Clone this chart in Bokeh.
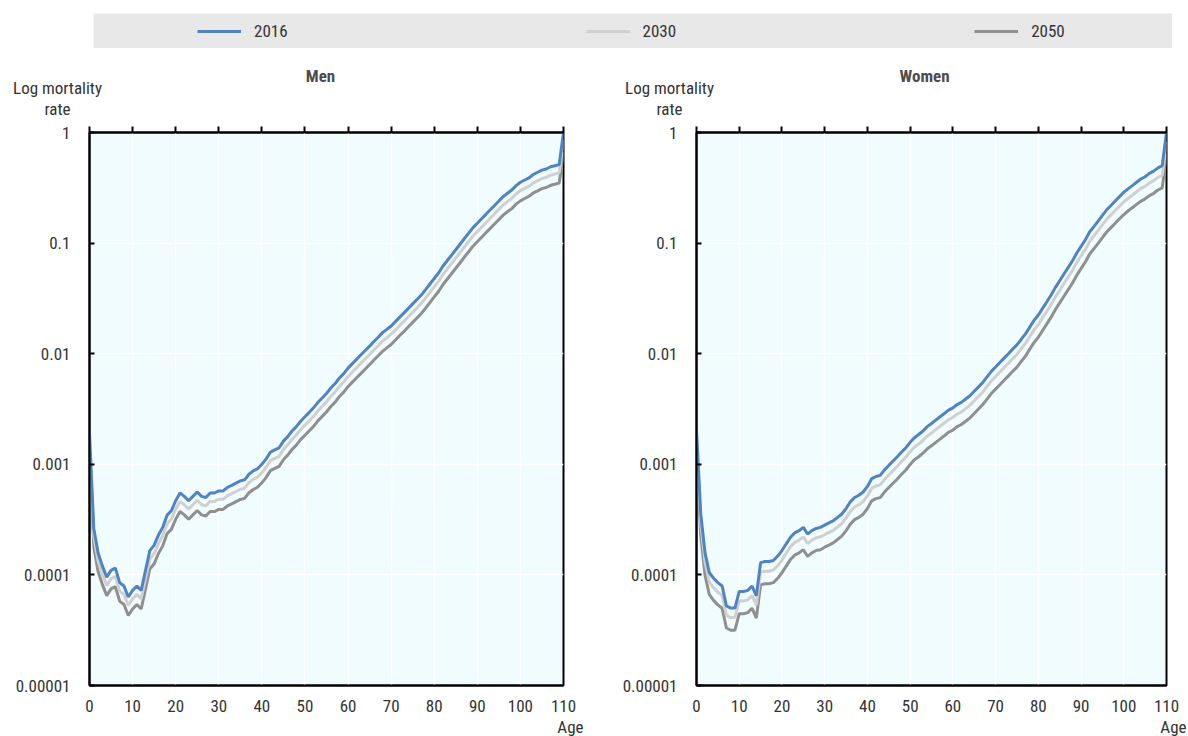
from bokeh.plotting import figure
from bokeh.models import (Range1d, LinearAxis, FixedTicker, CustomJSTickFormatter,
                          Title, Legend, LegendItem, Spacer)
from bokeh.core.properties import value
from bokeh.layouts import column, row
from bokeh.embed import file_html
from bokeh.resources import INLINE

AGES = list(range(111))
X_TICKS = list(range(0, 111, 10))
Y_TICKS = [1e-5, 1e-4, 1e-3, 1e-2, 1e-1, 1]
SERIES = ["2016", "2030", "2050"]
PANELS = ["Men", "Women"]
Y_TITLE = ["Log mortality", "rate"]
X_TITLE = "Age"

MEN_2016 = [0.00191, 0.000263, 0.000158, 0.000120, 0.0000955, 0.000110, 0.000115, 0.0000851, 0.0000794, 0.0000631,
 0.0000724, 0.0000794, 0.0000724, 0.000110, 0.000166, 0.000186, 0.000229, 0.000269, 0.000347, 0.000380,
 0.000468, 0.000550, 0.000513, 0.000468, 0.000513, 0.000562, 0.000513, 0.000501, 0.000550, 0.000550,
 0.000575, 0.000575, 0.000617, 0.000646, 0.000676, 0.000708, 0.000724, 0.000813, 0.000871, 0.000912,
 0.00100, 0.00112, 0.00129, 0.00135, 0.00141, 0.00162, 0.00178, 0.00200, 0.00219, 0.00245,
 0.00269, 0.00295, 0.00324, 0.00363, 0.00398, 0.00437, 0.00490, 0.00537, 0.00603, 0.00661,
 0.00741, 0.00813, 0.00891, 0.00977, 0.0107, 0.0117, 0.0129, 0.0141, 0.0155, 0.0166,
 0.0178, 0.0195, 0.0214, 0.0234, 0.0257, 0.0282, 0.0309, 0.0339, 0.0380, 0.0427,
 0.0479, 0.0537, 0.0617, 0.0692, 0.0776, 0.0871, 0.0977, 0.110, 0.123, 0.138,
 0.151, 0.166, 0.182, 0.200, 0.219, 0.240, 0.263, 0.282, 0.302, 0.331,
 0.355, 0.372, 0.389, 0.417, 0.437, 0.457, 0.468, 0.490, 0.501, 0.513,
 1.0]

MEN_2030 = [0.00160, 0.000221, 0.000133, 0.000101, 0.0000802, 0.0000924, 0.0000966, 0.0000715, 0.0000667, 0.0000530,
 0.0000608, 0.0000667, 0.0000608, 0.0000924, 0.000139, 0.000156, 0.000192, 0.000226, 0.000291, 0.000319,
 0.000393, 0.000462, 0.000431, 0.000393, 0.000431, 0.000472, 0.000431, 0.000421, 0.000462, 0.000462,
 0.000483, 0.000483, 0.000518, 0.000543, 0.000568, 0.000595, 0.000608, 0.000683, 0.000732, 0.000766,
 0.000840, 0.000941, 0.00108, 0.00113, 0.00118, 0.00136, 0.00150, 0.00168, 0.00184, 0.00206,
 0.00226, 0.00248, 0.00272, 0.00305, 0.00334, 0.00367, 0.00412, 0.00451, 0.00507, 0.00555,
 0.00622, 0.00683, 0.00748, 0.00821, 0.00899, 0.00983, 0.0108, 0.0118, 0.0130, 0.0139,
 0.0150, 0.0164, 0.0180, 0.0197, 0.0216, 0.0237, 0.0260, 0.0285, 0.0319, 0.0359,
 0.0402, 0.0451, 0.0518, 0.0581, 0.0652, 0.0732, 0.0821, 0.0924, 0.103, 0.116,
 0.127, 0.139, 0.153, 0.168, 0.184, 0.202, 0.221, 0.237, 0.254, 0.278,
 0.298, 0.312, 0.327, 0.350, 0.367, 0.384, 0.393, 0.412, 0.421, 0.431,
 0.85]

MEN_2050 = [0.00130, 0.000179, 0.000107, 0.0000816, 0.0000649, 0.0000748, 0.0000782, 0.0000579, 0.0000540, 0.0000429,
 0.0000492, 0.0000540, 0.0000492, 0.0000748, 0.000113, 0.000126, 0.000156, 0.000183, 0.000236, 0.000258,
 0.000318, 0.000374, 0.000349, 0.000318, 0.000349, 0.000382, 0.000349, 0.000341, 0.000374, 0.000374,
 0.000391, 0.000391, 0.000420, 0.000439, 0.000460, 0.000481, 0.000492, 0.000553, 0.000592, 0.000620,
 0.000680, 0.000762, 0.000877, 0.000918, 0.000959, 0.00110, 0.00121, 0.00136, 0.00149, 0.00167,
 0.00183, 0.00201, 0.00220, 0.00247, 0.00271, 0.00297, 0.00333, 0.00365, 0.00410, 0.00449,
 0.00504, 0.00553, 0.00606, 0.00664, 0.00728, 0.00796, 0.00877, 0.00959, 0.0105, 0.0113,
 0.0121, 0.0133, 0.0146, 0.0159, 0.0175, 0.0192, 0.0210, 0.0231, 0.0258, 0.0290,
 0.0326, 0.0365, 0.0420, 0.0471, 0.0528, 0.0592, 0.0664, 0.0748, 0.0836, 0.0938,
 0.103, 0.113, 0.124, 0.136, 0.149, 0.163, 0.179, 0.192, 0.205, 0.225,
 0.241, 0.253, 0.265, 0.284, 0.297, 0.311, 0.318, 0.333, 0.341, 0.349,
 0.66]

WOMEN_2016 = [0.00204, 0.000355, 0.000158, 0.000105, 0.0000933, 0.0000851, 0.0000794, 0.0000525, 0.0000501, 0.0000501,
 0.0000708, 0.0000708, 0.0000724, 0.0000794, 0.0000646, 0.000129, 0.000132, 0.000132, 0.000135, 0.000148,
 0.000166, 0.000191, 0.000219, 0.000240, 0.000251, 0.000269, 0.000234, 0.000251, 0.000263, 0.000269,
 0.000282, 0.000295, 0.000309, 0.000331, 0.000355, 0.000398, 0.000457, 0.000501, 0.000525, 0.000562,
 0.000631, 0.000741, 0.000776, 0.000794, 0.000891, 0.000977, 0.00107, 0.00117, 0.00129, 0.00141,
 0.00158, 0.00174, 0.00186, 0.00200, 0.00219, 0.00234, 0.00251, 0.00269, 0.00288, 0.00309,
 0.00324, 0.00347, 0.00363, 0.00389, 0.00417, 0.00457, 0.00501, 0.00550, 0.00617, 0.00692,
 0.00759, 0.00832, 0.00912, 0.0100, 0.0110, 0.0120, 0.0135, 0.0151, 0.0174, 0.0200,
 0.0224, 0.0257, 0.0295, 0.0339, 0.0398, 0.0457, 0.0525, 0.0603, 0.0692, 0.0813,
 0.0933, 0.107, 0.126, 0.141, 0.158, 0.178, 0.200, 0.219, 0.240, 0.263,
 0.288, 0.309, 0.331, 0.355, 0.380, 0.398, 0.427, 0.447, 0.479, 0.501,
 1.0]

WOMEN_2030 = [0.00167, 0.000291, 0.000130, 0.0000861, 0.0000765, 0.0000698, 0.0000651, 0.0000431, 0.0000411, 0.0000411,
 0.0000581, 0.0000581, 0.0000594, 0.0000651, 0.0000530, 0.000106, 0.000108, 0.000108, 0.000111, 0.000121,
 0.000136, 0.000157, 0.000180, 0.000197, 0.000206, 0.000221, 0.000192, 0.000206, 0.000216, 0.000221,
 0.000231, 0.000242, 0.000253, 0.000271, 0.000291, 0.000326, 0.000375, 0.000411, 0.000431, 0.000461,
 0.000517, 0.000608, 0.000636, 0.000651, 0.000731, 0.000801, 0.000877, 0.000959, 0.00106, 0.00116,
 0.00130, 0.00143, 0.00153, 0.00164, 0.00180, 0.00192, 0.00206, 0.00221, 0.00236, 0.00253,
 0.00266, 0.00285, 0.00298, 0.00319, 0.00342, 0.00375, 0.00411, 0.00451, 0.00506, 0.00567,
 0.00622, 0.00682, 0.00748, 0.00820, 0.00902, 0.00984, 0.0111, 0.0124, 0.0143, 0.0164,
 0.0184, 0.0211, 0.0242, 0.0278, 0.0326, 0.0375, 0.0431, 0.0494, 0.0567, 0.0667,
 0.0765, 0.0877, 0.103, 0.116, 0.130, 0.146, 0.164, 0.180, 0.197, 0.216,
 0.236, 0.253, 0.271, 0.291, 0.312, 0.326, 0.350, 0.367, 0.393, 0.411,
 0.82]

WOMEN_2050 = [0.00129, 0.000224, 0.0000995, 0.0000662, 0.0000588, 0.0000536, 0.0000500, 0.0000331, 0.0000316, 0.0000316,
 0.0000446, 0.0000446, 0.0000456, 0.0000500, 0.0000407, 0.0000813, 0.0000832, 0.0000832, 0.0000851, 0.0000932,
 0.000105, 0.000120, 0.000138, 0.000151, 0.000158, 0.000169, 0.000147, 0.000158, 0.000166, 0.000169,
 0.000178, 0.000186, 0.000195, 0.000209, 0.000224, 0.000251, 0.000288, 0.000316, 0.000331, 0.000354,
 0.000398, 0.000467, 0.000489, 0.000500, 0.000561, 0.000616, 0.000674, 0.000737, 0.000813, 0.000888,
 0.000995, 0.00110, 0.00117, 0.00126, 0.00138, 0.00147, 0.00158, 0.00169, 0.00181, 0.00195,
 0.00204, 0.00219, 0.00229, 0.00245, 0.00263, 0.00288, 0.00316, 0.00347, 0.00389, 0.00436,
 0.00478, 0.00524, 0.00575, 0.00630, 0.00693, 0.00756, 0.00851, 0.00951, 0.0110, 0.0126,
 0.0141, 0.0162, 0.0186, 0.0214, 0.0251, 0.0288, 0.0331, 0.0380, 0.0436, 0.0512,
 0.0588, 0.0674, 0.0794, 0.0888, 0.0995, 0.112, 0.126, 0.138, 0.151, 0.166,
 0.181, 0.195, 0.209, 0.224, 0.239, 0.251, 0.269, 0.282, 0.302, 0.316,
 0.64]

COLORS = {"2016": "#4f84c4", "2030": "#d0d0d0", "2050": "#8f8f8f"}
FONT = "'Liberation Sans Narrow', 'Arial Narrow', 'Roboto Condensed', 'Liberation Sans', sans-serif"
FS = "17px"
TXT = "#333333"
BG = "#f1fcff"

FRAME_H = 553
TOP_B = 10
BOT_B = 51


def make_panel(data, left_b, frame_w, right_b):
    p = figure(width=left_b + frame_w + right_b, height=TOP_B + FRAME_H + BOT_B,
               x_range=Range1d(0, 110), y_range=Range1d(1e-5, 1), y_axis_type="log",
               toolbar_location=None, output_backend="svg", title=None,
               min_border_left=left_b, min_border_right=right_b,
               min_border_top=TOP_B, min_border_bottom=BOT_B,
               background_fill_color=BG, border_fill_color="white",
               outline_line_color="black", outline_line_width=2)
    p.xgrid.ticker = FixedTicker(ticks=X_TICKS)
    p.ygrid.ticker = FixedTicker(ticks=Y_TICKS)
    p.grid.grid_line_color = "white"
    p.grid.grid_line_width = 1.5

    xa = p.xaxis[0]
    xa.ticker = FixedTicker(ticks=X_TICKS)
    xa.major_tick_out = 0
    xa.major_tick_in = 0
    xa.minor_tick_line_color = None
    xa.axis_line_color = "black"
    xa.axis_line_width = 2
    xa.major_label_standoff = 14
    xa.major_label_text_font = FONT
    xa.major_label_text_font_size = FS
    xa.major_label_text_color = TXT

    ya = p.yaxis[0]
    ya.ticker = FixedTicker(ticks=Y_TICKS)
    ya.formatter = CustomJSTickFormatter(code="""
        const d = Math.round(-Math.log10(tick));
        return d <= 0 ? "1" : tick.toFixed(d);
    """)
    ya.major_tick_in = 5
    ya.major_tick_out = 0
    ya.major_tick_line_width = 2
    ya.major_tick_line_color = "black"
    ya.minor_tick_line_color = None
    ya.axis_line_color = "black"
    ya.axis_line_width = 2
    ya.major_label_standoff = 19
    ya.major_label_text_font = FONT
    ya.major_label_text_font_size = FS
    ya.major_label_text_color = TXT

    top = LinearAxis(ticker=FixedTicker(ticks=X_TICKS), major_label_text_color=None,
                     major_label_text_font_size="1px", major_label_standoff=0,
                     major_tick_out=6, major_tick_in=0, major_tick_line_width=2,
                     major_tick_line_color="black", minor_tick_line_color=None,
                     axis_line_color="black", axis_line_width=2)
    p.add_layout(top, "above")

    for s in ["2050", "2030", "2016"]:
        p.line(AGES, data[s], line_color=COLORS[s], line_width=3)

    p.add_layout(Title(text=X_TITLE, align="right", offset=-20, standoff=0,
                       text_font=FONT, text_font_size=FS, text_font_style="normal",
                       text_color=TXT), "below")
    return p


men = make_panel({"2016": MEN_2016, "2030": MEN_2030, "2050": MEN_2050}, 89, 474, 37)
women = make_panel({"2016": WOMEN_2016, "2030": WOMEN_2030, "2050": WOMEN_2050}, 96, 470, 22)

# header with panel titles and y-axis titles (page pixel coordinates)
hdr = figure(width=1188, height=74, x_range=Range1d(0, 1188), y_range=Range1d(74, 0),
             toolbar_location=None, output_backend="svg", min_border=0,
             x_axis_location=None, y_axis_location=None, outline_line_color=None,
             background_fill_color="white", border_fill_color="white")
hdr.grid.visible = False
hdr.text(x=[320, 924], y=[27, 27], text=PANELS, text_align="center",
         text_baseline="middle", text_font=value(FONT), text_font_size=FS,
         text_font_style="bold", text_color="#4d4d4d")
hdr.text(x=[57, 57, 669, 669], y=[39, 60, 39, 60], text=Y_TITLE + Y_TITLE,
         text_align="center", text_baseline="middle", text_font=value(FONT),
         text_font_size=FS, text_color=TXT)

# legend band
lg = figure(width=1079, height=35, x_range=Range1d(0, 1), y_range=Range1d(0, 1),
            toolbar_location=None, output_backend="svg", min_border=0,
            x_axis_location=None, y_axis_location=None,
            background_fill_color="#e8e8e8", border_fill_color="#e8e8e8",
            outline_line_color=None)
lg.grid.visible = False
items = []
for s in SERIES:
    r = lg.line([-5, -4], [-5, -4], line_color=COLORS[s], line_width=3)
    items.append(LegendItem(label=s, renderers=[r]))
legend = Legend(items=items, orientation="horizontal", location=(104, 7),
                spacing=298, glyph_width=44, glyph_height=20, label_standoff=13,
                label_height=20, padding=0, margin=0, border_line_color=None,
                background_fill_alpha=0, label_text_font=FONT,
                label_text_font_size=FS, label_text_color=TXT)
lg.add_layout(legend, "center")

layout = column(Spacer(height=13),
                row(Spacer(width=93), lg),
                hdr,
                row(men, women))

open("out.html", "w").write(file_html(layout, INLINE))
